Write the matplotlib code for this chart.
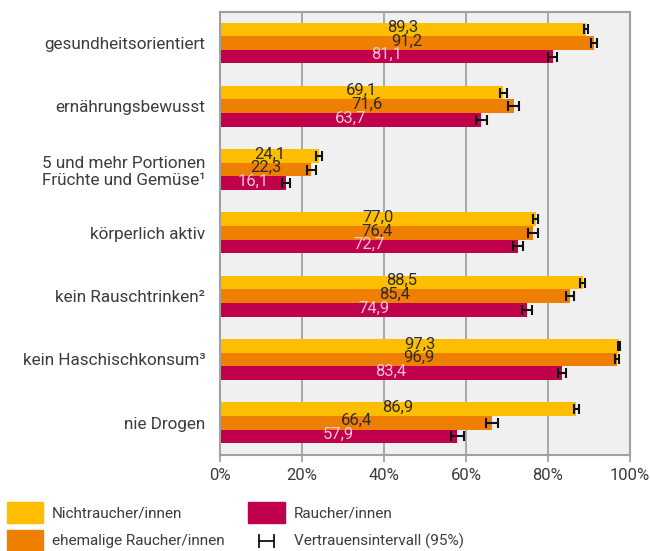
import matplotlib
matplotlib.use("Agg")
import matplotlib.pyplot as plt
from matplotlib.patches import Rectangle
from matplotlib.lines import Line2D
import numpy as np

plt.rcParams['font.family'] = ['Roboto', 'DejaVu Sans']

categories = ["gesundheitsorientiert", "ernährungsbewusst",
              "5 und mehr Portionen\nFrüchte und Gemüse¹", "körperlich aktiv",
              "kein Rauschtrinken²", "kein Haschischkonsum³", "nie Drogen"]
series_names = ["Nichtraucher/innen", "ehemalige Raucher/innen", "Raucher/innen"]
nichtraucher = [89.3, 69.1, 24.1, 77.0, 88.5, 97.3, 86.9]
ehemalige = [91.2, 71.6, 22.3, 76.4, 85.4, 96.9, 66.4]
raucher = [81.1, 63.7, 16.1, 72.7, 74.9, 83.4, 57.9]
ci_nichtraucher = [0.5, 0.8, 0.8, 0.6, 0.6, 0.3, 0.6]
ci_ehemalige = [0.8, 1.3, 1.1, 1.2, 1.0, 0.5, 1.5]
ci_raucher = [1.2, 1.3, 1.0, 1.2, 1.2, 1.0, 1.5]
xticks = [0, 20, 40, 60, 80, 100]
xticklabels = ["0%", "20%", "40%", "60%", "80%", "100%"]

colors = ["#FDBE00", "#EE7F00", "#C0004A"]
text_colors = ["#2b2b2b", "#2b2b2b", "#f4c4d6"]
tc = "#3c3c3c"

fig = plt.figure(figsize=(6.5, 5.51), dpi=100)
ax = fig.add_axes([220/650, 1-455/551, 410/650, 443/551])
ax.set_facecolor("#eff0ef")

h = 0.215
y = np.arange(len(categories))
data = [nichtraucher, ehemalige, raucher]
cis = [ci_nichtraucher, ci_ehemalige, ci_raucher]
for i, (vals, ci) in enumerate(zip(data, cis)):
    yy = y + (i - 1) * h
    ax.barh(yy, vals, height=h, color=colors[i], zorder=2)
    ax.errorbar(vals, yy, xerr=ci, fmt='none', ecolor='#111111', elinewidth=1.5,
                capsize=3.6, capthick=1.5, zorder=3)
    for v, yv in zip(vals, yy):
        ax.text(v / 2, yv - 0.03, f"{v:.1f}".replace('.', ','), ha='center', va='center',
                fontsize=12, color=text_colors[i], zorder=4)

ax.set_ylim(6.51, -0.49)
ax.set_xlim(0, 100)
ax.set_yticks(y)
ax.set_yticklabels(categories, fontsize=12.3, color=tc)
ax.tick_params(axis='y', length=0, pad=10.5)
ax.set_xticks(xticks)
ax.set_xticklabels(xticklabels, fontsize=12, color=tc)
ax.tick_params(axis='x', length=5, width=1.3, color="#a0a0a0", pad=4)
ax.grid(axis='x', color="#a8a8a8", linewidth=1.4, zorder=1)
ax.set_axisbelow(True)
for s in ax.spines.values():
    s.set_color("#a0a0a0")
    s.set_linewidth(1.5)

# legend
W, H = 650, 551
def rect(x, ytop, w, hh, c):
    fig.add_artist(Rectangle((x / W, 1 - (ytop + hh) / H), w / W, hh / H,
                             transform=fig.transFigure, color=c))
rect(7, 502, 36, 21, colors[0])
rect(7, 530, 36, 21, colors[1])
rect(248, 502, 37, 21, colors[2])
lfs = 11
fig.text(52 / W, 1 - 513 / H, series_names[0], fontsize=lfs, color=tc, va='center')
fig.text(52 / W, 1 - 541 / H, series_names[1], fontsize=lfs, color=tc, va='center')
fig.text(294 / W, 1 - 513 / H, series_names[2], fontsize=lfs, color=tc, va='center')
fig.text(294 / W, 1 - 541 / H, "Vertrauensintervall (95%)", fontsize=lfs, color=tc, va='center')
ym = 1 - 541 / H
fig.add_artist(Line2D([259 / W, 274 / W], [ym, ym], transform=fig.transFigure, color='#111111', lw=1.3))
for xx in (259, 274):
    fig.add_artist(Line2D([xx / W, xx / W], [ym - 6 / H, ym + 6 / H], transform=fig.transFigure,
                          color='#111111', lw=1.3))

fig.savefig("out.png", dpi=100)
